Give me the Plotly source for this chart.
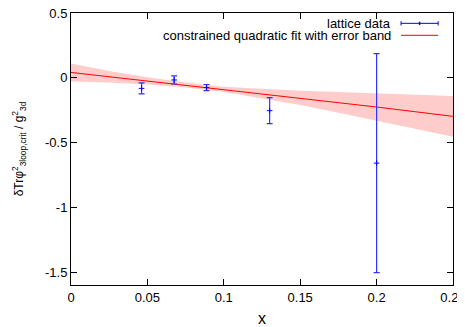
import plotly.graph_objects as go

# lattice data
x_data = [0.0462, 0.0675, 0.0887, 0.130, 0.200]
y_data = [-0.082, -0.017, -0.076, -0.254, -0.659]
y_err = [0.042, 0.031, 0.024, 0.100, 0.845]

# constrained quadratic fit
x_fit = [0, 0.025, 0.05, 0.075, 0.1, 0.125, 0.15, 0.175, 0.2, 0.225, 0.25]
y_fit = [0.041, 0.008, -0.024, -0.056, -0.089, -0.122, -0.155, -0.190, -0.226, -0.262, -0.298]
y_fit_hi = [0.111, 0.053, 0.004, -0.036, -0.069, -0.087, -0.100, -0.110, -0.121, -0.132, -0.140]
y_fit_lo = [-0.029, -0.037, -0.052, -0.076, -0.109, -0.157, -0.210, -0.270, -0.331, -0.392, -0.456]

x_ticks = [0, 0.05, 0.1, 0.15, 0.2, 0.25]
x_ticktext = ["0", "0.05", "0.1", "0.15", "0.2", "0.25"]
y_ticks = [0.5, 0, -0.5, -1, -1.5]
y_ticktext = ["0.5", "0", "-0.5", "-1", "-1.5"]

legend_labels = ["lattice data", "constrained quadratic fit with error band"]

fig = go.Figure()

fig.add_trace(go.Scatter(x=x_fit, y=y_fit_hi, mode="lines", line=dict(width=0),
                         showlegend=False, hoverinfo="skip"))
fig.add_trace(go.Scatter(x=x_fit, y=y_fit_lo, mode="lines", line=dict(width=0),
                         fill="tonexty", fillcolor="rgba(255,0,0,0.2)",
                         showlegend=False, hoverinfo="skip"))
fig.add_trace(go.Scatter(x=x_fit, y=y_fit, mode="lines",
                         line=dict(color="red", width=1), showlegend=False))
fig.add_trace(go.Scatter(x=x_data, y=y_data, mode="markers",
                         marker=dict(symbol="cross-thin", size=4, color="blue",
                                     line=dict(color="blue", width=1)),
                         error_y=dict(type="data", array=y_err, visible=True,
                                      color="rgb(50,50,255)", thickness=1.2, width=3),
                         showlegend=False))

font = dict(family="Liberation Sans, Arial, sans-serif", size=13, color="black")

# the page body has an 8px default margin, so the figure is shrunk by 8px
fig.update_layout(
    width=457, height=319,
    margin=dict(l=63, r=12, t=5, b=42, autoexpand=False),
    paper_bgcolor="white", plot_bgcolor="white",
    font=font,
    showlegend=False,
    xaxis=dict(range=[0, 0.25], tickvals=x_ticks, ticktext=x_ticktext,
               ticks="inside", ticklen=6, tickcolor="black", mirror="ticks",
               showline=True, linecolor="black", linewidth=1, showgrid=False,
               zeroline=False, automargin=False, ticklabeloverflow="allow",
               title=dict(text="x", standoff=10)),
    yaxis=dict(range=[-1.6, 0.5], tickvals=y_ticks, ticktext=y_ticktext,
               ticks="inside", ticklen=6, tickcolor="black", mirror="ticks",
               showline=True, linecolor="black", linewidth=1, showgrid=False,
               zeroline=False, automargin=False, ticklabeloverflow="allow",
               title=dict(text="δTrφ<sup>2</sup><sub>3loop,crit</sub> / g<sup>2</sup><sub>3d</sub>",
                          font=dict(size=12), standoff=18)),
)

# manual gnuplot-style legend (text left of sample)
lx_text = 0.843
ly = [0.962, 0.918]
for lab, yy in zip(legend_labels, ly):
    fig.add_annotation(x=lx_text, y=yy, xref="paper", yref="paper", text=lab,
                       showarrow=False, xanchor="right", yanchor="middle", font=font)
x0, x1 = 0.864, 0.961
fig.add_shape(type="line", xref="paper", yref="paper", x0=x0, x1=x1, y0=ly[0], y1=ly[0],
              line=dict(color="blue", width=1))
for xx in (x0, x1):
    fig.add_shape(type="line", xref="paper", yref="paper", x0=xx, x1=xx,
                  y0=ly[0] - 0.008, y1=ly[0] + 0.008, line=dict(color="blue", width=1))
fig.add_shape(type="line", xref="paper", yref="paper", x0=(x0 + x1) / 2, x1=(x0 + x1) / 2,
              y0=ly[0] - 0.006, y1=ly[0] + 0.006, line=dict(color="blue", width=1.5))
fig.add_shape(type="line", xref="paper", yref="paper", x0=x0, x1=x1, y0=ly[1], y1=ly[1],
              line=dict(color="red", width=1))

fig.write_html("out.html")
